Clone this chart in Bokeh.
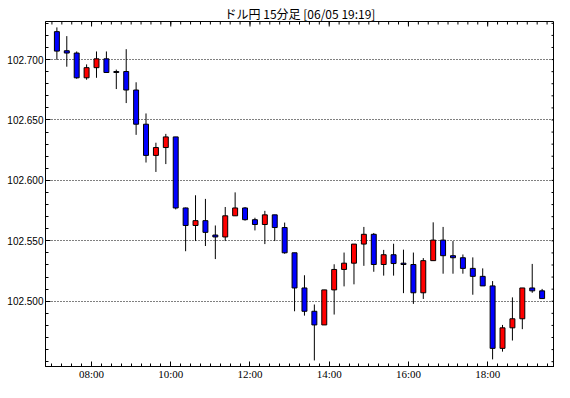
import math
from bokeh.plotting import figure
from bokeh.models import FixedTicker, PrintfTickFormatter, ColumnDataSource, Range1d
from bokeh.embed import file_html
from bokeh.resources import INLINE

title_text = "ドル円 15分足 [06/05 19:19]"

times = ["07:00", "07:15", "07:30", "07:45", "08:00", "08:15", "08:30", "08:45",
         "09:00", "09:15", "09:30", "09:45", "10:00", "10:15", "10:30", "10:45",
         "11:00", "11:15", "11:30", "11:45", "12:00", "12:15", "12:30", "12:45",
         "13:00", "13:15", "13:30", "13:45", "14:00", "14:15", "14:30", "14:45",
         "15:00", "15:15", "15:30", "15:45", "16:00", "16:15", "16:30", "16:45",
         "17:00", "17:15", "17:30", "17:45", "18:00", "18:15", "18:30", "18:45",
         "19:00", "19:15"]

opens = [102.7231, 102.7073, 102.7054, 102.6849, 102.6933, 102.7006, 102.6901, 102.6901,
         102.6748, 102.6465, 102.6207, 102.6272, 102.6360, 102.5772, 102.5627, 102.5667,
         102.5548, 102.5532, 102.5707, 102.5772, 102.5675, 102.5635, 102.5715, 102.5610,
         102.5401, 102.5110, 102.4917, 102.4804, 102.5094, 102.5263, 102.5315, 102.5473,
         102.5554, 102.5304, 102.5385, 102.5315, 102.5304, 102.5070, 102.5336, 102.5506,
         102.5377, 102.5360, 102.5272, 102.5206, 102.5127, 102.4610, 102.4780, 102.4855,
         102.5110, 102.5086]

closes = [102.7070, 102.7054, 102.6849, 102.6933, 102.7006, 102.6893, 102.6893, 102.6748,
          102.6465, 102.6207, 102.6272, 102.6360, 102.5772, 102.5627, 102.5667, 102.5570,
          102.5532, 102.5707, 102.5772, 102.5675, 102.5635, 102.5715, 102.5610, 102.5401,
          102.5110, 102.4917, 102.4804, 102.5094, 102.5263, 102.5315, 102.5473, 102.5554,
          102.5304, 102.5385, 102.5312, 102.5304, 102.5070, 102.5336, 102.5506, 102.5377,
          102.5360, 102.5272, 102.5206, 102.5127, 102.4610, 102.4780, 102.4855, 102.5110,
          102.5086, 102.5022]

highs = [102.7266, 102.7194, 102.7067, 102.6960, 102.7067, 102.7067, 102.6917, 102.7086,
         102.6812, 102.6554, 102.6312, 102.6385, 102.6360, 102.5775, 102.5877, 102.5847,
         102.5627, 102.5780, 102.5901, 102.5780, 102.5691, 102.5748, 102.5715, 102.5651,
         102.5401, 102.5215, 102.4973, 102.5094, 102.5306, 102.5403, 102.5473, 102.5615,
         102.5565, 102.5425, 102.5476, 102.5427, 102.5403, 102.5357, 102.5653, 102.5615,
         102.5498, 102.5387, 102.5363, 102.5272, 102.5167, 102.4804, 102.5032, 102.5110,
         102.5309, 102.5102]

lows = [102.6998, 102.6941, 102.6841, 102.6833, 102.6849, 102.6893, 102.6756, 102.6640,
        102.6377, 102.6148, 102.6070, 102.6135, 102.5760, 102.5414, 102.5498, 102.5457,
        102.5349, 102.5498, 102.5707, 102.5667, 102.5586, 102.5473, 102.5498, 102.5393,
        102.4917, 102.4881, 102.4510, 102.4804, 102.4890, 102.5123, 102.5140, 102.5293,
        102.5244, 102.5212, 102.5212, 102.5067, 102.4978, 102.5019, 102.5336, 102.5228,
        102.5228, 102.5228, 102.5054, 102.5127, 102.4519, 102.4583, 102.4675, 102.4769,
        102.5070, 102.5022]

x_major_hours = [8, 10, 12, 14, 16, 18]
x_major_labels = ["08:00", "10:00", "12:00", "14:00", "16:00", "18:00"]
y_major = [102.50, 102.55, 102.60, 102.65, 102.70]

UP = "#FF0000"
DOWN = "#0000FF"

X0, X1 = 6.8375, 19.6875
Y0, Y1 = 102.4460, 102.7315

xs = [int(t[:2]) + int(t[3:]) / 60 + 7.5 / 60 for t in times]
body_top = [max(o, c) for o, c in zip(opens, closes)]
body_bot = [min(o, c) for o, c in zip(opens, closes)]
colors = [UP if c > o else DOWN for o, c in zip(opens, closes)]

src = ColumnDataSource(dict(x=xs, high=highs, low=lows, top=body_top,
                            bottom=body_bot, color=colors))

p = figure(width=554, height=382, output_backend="svg", toolbar_location=None,
           x_range=Range1d(X0, X1), y_range=Range1d(Y0, Y1),
           min_border_left=45, min_border_right=0, min_border_top=21,
           min_border_bottom=0, background_fill_color="white",
           border_fill_color="white")

p.title.text = title_text
p.title.align = "center"
p.title.text_font = "Noto Sans CJK JP"
p.title.text_font_size = "12px"
p.title.text_font_style = "normal"
p.title.text_color = "black"
p.title.standoff = 0
p.title.offset = 0

p.outline_line_color = "black"
p.outline_line_width = 1

p.segment(x0="x", y0="low", x1="x", y1="high", source=src,
          line_color="black", line_width=1)
p.vbar(x="x", width=0.125, top="top", bottom="bottom", source=src,
       fill_color="color", line_color="black", line_width=1)

x_minor = [7 + i * 0.25 for i in range(51)]
y_minor = [round(102.45 + i * 0.01, 2) for i in range(29)]

for ax in (p.xaxis[0], p.yaxis[0]):
    ax.axis_line_color = "black"
    ax.major_tick_line_color = "black"
    ax.minor_tick_line_color = "black"
    ax.major_tick_in = 5
    ax.major_tick_out = 0
    ax.minor_tick_in = 3
    ax.minor_tick_out = 0
    ax.major_label_text_color = "black"

xa = p.xaxis[0]
xa.ticker = FixedTicker(ticks=x_major_hours, minor_ticks=x_minor)
xa.major_label_overrides = {h: l for h, l in zip(x_major_hours, x_major_labels)}
xa.major_label_text_font = "Liberation Serif"
xa.major_label_text_font_size = "11px"
xa.major_label_standoff = 1

ya = p.yaxis[0]
ya.ticker = FixedTicker(ticks=y_major, minor_ticks=y_minor)
ya.formatter = PrintfTickFormatter(format="%.3f")
ya.major_label_text_font = "Liberation Sans"
ya.major_label_text_font_size = "10px"
ya.major_label_standoff = 2

# ticks along the top and right edges of the frame (inward halves of dash markers)
p.scatter(x=x_minor, y=[Y1] * len(x_minor), marker="dash", angle=math.pi / 2,
          size=6, line_color="black", line_width=1)
p.scatter(x=x_major_hours, y=[Y1] * len(x_major_hours), marker="dash",
          angle=math.pi / 2, size=10, line_color="black", line_width=1)
p.scatter(x=[X1] * len(y_minor), y=y_minor, marker="dash",
          size=6, line_color="black", line_width=1)

p.xgrid.grid_line_color = None
p.ygrid.grid_line_color = "black"
p.ygrid.grid_line_dash = "1 2"
p.ygrid.grid_line_width = 1

open("out.html", "w").write(file_html(p, INLINE))
